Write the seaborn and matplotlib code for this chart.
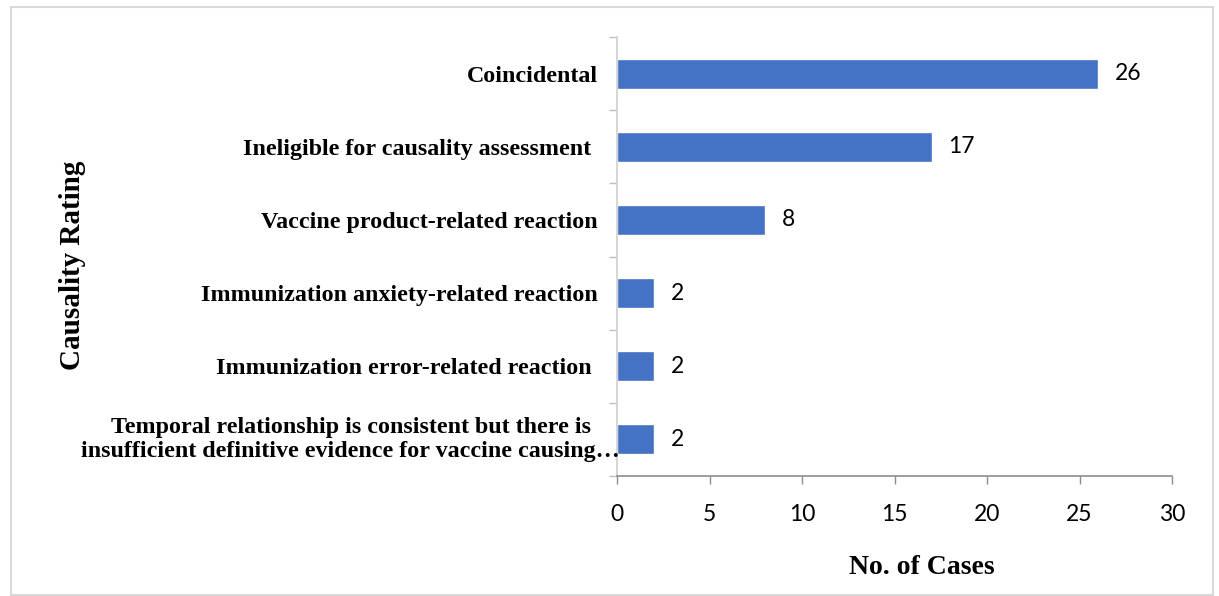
import matplotlib
matplotlib.use("Agg")
import matplotlib.pyplot as plt
import matplotlib.patches as mpatches
import matplotlib.transforms as mtransforms
from matplotlib.ticker import FixedLocator
import seaborn as sns
import pandas as pd

categories = [
    "Coincidental",
    "Ineligible for causality assessment ",
    "Vaccine product-related reaction",
    "Immunization anxiety-related reaction",
    "Immunization error-related reaction ",
    "Temporal relationship is consistent but there is\ninsufficient definitive evidence for vaccine causing\u2026",
]
cases = [26, 17, 8, 2, 2, 2]
x_ticks = [0, 5, 10, 15, 20, 25, 30]

df = pd.DataFrame({"Causality": categories, "Cases": cases})

sns.set_theme(style="white")
plt.rcParams["text.color"] = "black"
plt.rcParams["axes.labelcolor"] = "black"
serif = ["Liberation Serif", "DejaVu Serif"]
sans = ["Lato", "DejaVu Sans"]

fig = plt.figure(figsize=(12.19, 5.96), dpi=100)
W, H = 1219, 596
ax = fig.add_axes([617 / W, 1 - 476 / H, (1172 - 617) / W, (476 - 37) / H])

sns.barplot(data=df, x="Cases", y="Causality", orient="h", color="#4472C4",
            saturation=1, width=0.41, ax=ax)

ax.set_xlim(0, 30)
ax.set_ylim(len(categories) - 0.5, -0.5)
ax.set_xticks(x_ticks)
ax.set_xticklabels([str(t) for t in x_ticks], fontfamily=sans, fontsize=16.5)

# category labels; the long two-line label is centred as a block
label_font = dict(fontfamily=serif, fontweight="bold", fontsize=17.3, color="black")
ax.set_yticks(range(len(categories)))
ax.set_yticklabels(categories[:-1] + [""], **label_font)
blend = mtransforms.blended_transform_factory(ax.transAxes, ax.transData)
ax.text(-0.48, len(categories) - 1, categories[-1], transform=blend,
        ha="center", va="center", multialignment="center", **label_font)

ax.tick_params(axis="y", which="major", length=0, pad=14, colors="black")
ax.yaxis.set_minor_locator(FixedLocator([i - 0.5 for i in range(len(categories) + 1)]))
ax.tick_params(axis="y", which="minor", left=True, length=6, width=1, color="#BFBFBF")
ax.tick_params(axis="x", which="major", bottom=True, length=6, width=1,
               color="#8C8C8C", pad=14, labelcolor="black")

for side in ["top", "right"]:
    ax.spines[side].set_visible(False)
ax.spines["left"].set_color("#D0D0D0")
ax.spines["left"].set_linewidth(1.2)
ax.spines["bottom"].set_color("#8C8C8C")
ax.spines["bottom"].set_linewidth(1.2)
ax.grid(False)

for container in ax.containers:
    ax.bar_label(container, labels=[str(v) for v in cases], padding=12,
                 fontfamily=sans, fontsize=16.5, color="black")

ax.set_xlabel("No. of Cases", fontfamily=serif, fontweight="bold", fontsize=20,
              color="black")
ax.xaxis.set_label_coords((922 - 617) / 555, (476 - 555) / 439)
ax.set_ylabel("")
fig.text(73 / W, 1 - 265 / H, "Causality Rating", rotation=90, ha="center",
         va="center", fontfamily=serif, fontweight="bold", fontsize=21, color="black")

# light frame around the whole chart area
fig.patches.append(mpatches.Rectangle((11 / W, 1 / H), (1213 - 11) / W, (589 - 1) / H,
                                      transform=fig.transFigure, fill=False,
                                      edgecolor="#D9D9D9", linewidth=1.5))

fig.savefig("out.png", dpi=100, facecolor="white")
